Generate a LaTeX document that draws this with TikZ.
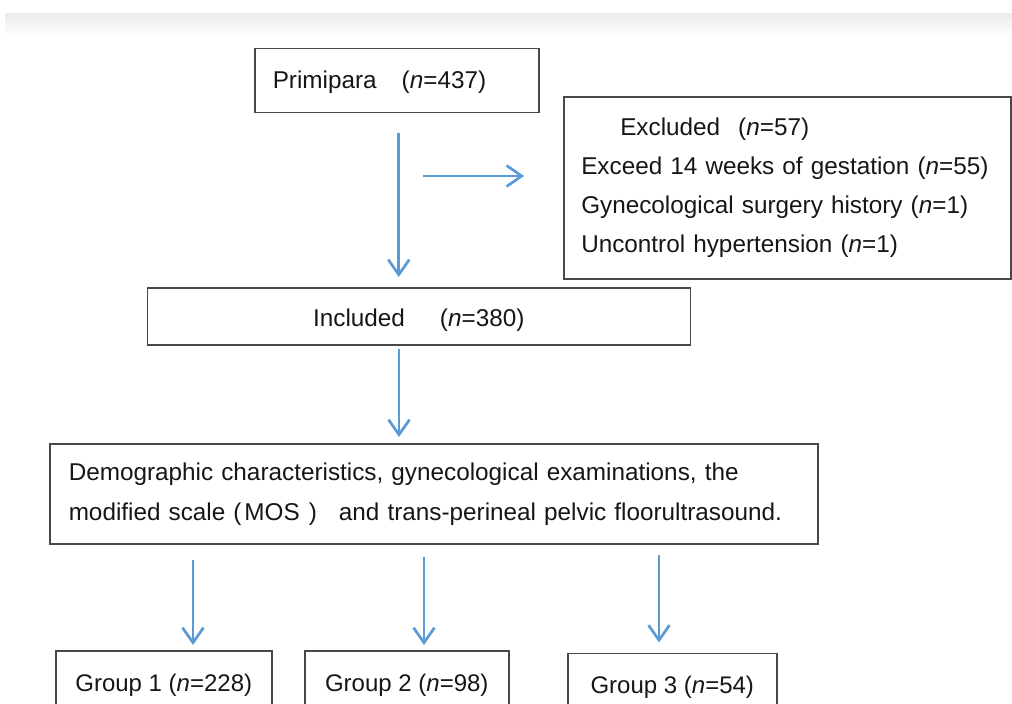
\documentclass[tikz,border=0pt]{standalone}
\usepackage{fontspec}
\setmainfont{Liberation Sans}
\usetikzlibrary{arrows.meta,calc}
\definecolor{arrblue}{RGB}{91,155,213}
\definecolor{boxgray}{RGB}{72,72,72}
\definecolor{txt}{RGB}{22,22,22}
\definecolor{band}{RGB}{236,236,236}
\begin{document}
\begin{tikzpicture}[x=1pt,y=-1pt,
  box/.style={draw=boxgray, line width=1.5pt, rectangle, inner sep=0pt, text=txt,
    font=\fontsize{24.3}{29}\selectfont},
  grp/.style={box, minimum height=64pt, text height=21.5pt, font=\fontsize{24}{29}\selectfont},
  arr/.style={draw=arrblue, line width=2.7pt, -{Straight Barb[length=15pt,width=21pt]}},
]
\useasboundingbox (0,0) rectangle (1012,704);
\clip (0,0) rectangle (1012,704);
\shade[top color=band, bottom color=white] (5,13) rectangle (1012,36);

% boxes
\node[box, anchor=north west, minimum width=284pt, minimum height=64pt,
      text width=248pt, inner xsep=18pt, align=left, text height=21.7pt] (prim) at (254,47.5)
      {Primipara\hspace{25pt}(\textit{n}=437)};

\node[box, anchor=north west, minimum width=447pt, minimum height=182pt,
      text width=412pt, inner xsep=17.5pt, align=left,
      font=\fontsize{24.3}{38.7}\selectfont] (excl) at (563,96)
      {\hspace*{39pt}Excluded\hspace{18pt}(\textit{n}=57)\\
       Exceed 14 weeks of gestation (\textit{n}=55)\\
       Gynecological surgery history (\textit{n}=1)\\
       Uncontrol hypertension (\textit{n}=1)};

\node[box, anchor=north west, minimum width=543pt, minimum height=57pt, text height=25.7pt] (incl) at (146.5,287)
      {Included\hspace{35pt}(\textit{n}=380)};

\node[box, anchor=north west, minimum width=768pt, minimum height=100pt,
      text width=730pt, inner xsep=19pt, align=left,
      font=\fontsize{24.3}{40}\selectfont] (demo) at (49,443)
      {Demographic characteristics, gynecological examinations, the\\
       modified scale\hspace{8pt}(\hspace{3pt}MOS\hspace{9pt})\hspace{22pt}and trans-perineal pelvic floorultrasound.};

\node[grp, anchor=north west, minimum width=216pt] (g1) at (55,650) {Group 1 (\textit{n}=228)};
\node[grp, anchor=north west, minimum width=204pt] (g2) at (304,650) {Group 2 (\textit{n}=98)};
\node[grp, anchor=north west, minimum width=209pt] (g3) at (567,652.5) {Group 3 (\textit{n}=54)};

% connectors
\draw[arr, shorten >=10pt] ([xshift=2pt,yshift=-19.5pt]prim.south) -- ([xshift=2pt]prim.south |- incl.north);
\coordinate (hs) at (423,176);
\draw[arr, shorten >=39pt] (hs) -- (hs -| excl.west);
\coordinate (v2) at (399,349);
\draw[arr, shorten >=6pt] (v2) -- (v2 |- demo.north);
\coordinate (a1) at (193,560);
\coordinate (a2) at (424,557);
\coordinate (a3) at (659,555);
\draw[arr, shorten >=5pt] (a1) -- (a1 |- g1.north);
\draw[arr, shorten >=5pt] (a2) -- (a2 |- g2.north);
\draw[arr, shorten >=10pt] (a3) -- (a3 |- g3.north);
\end{tikzpicture}
\end{document}
